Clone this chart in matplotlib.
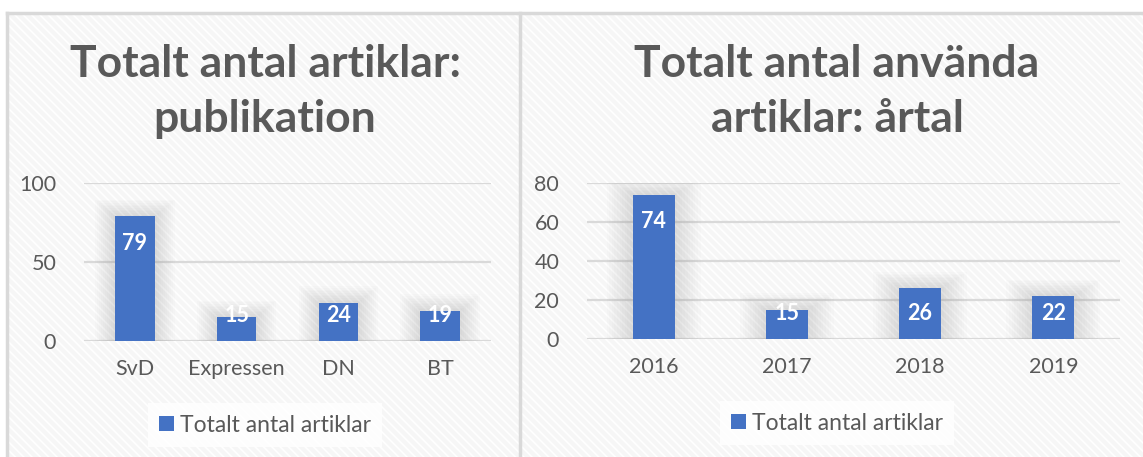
import matplotlib.pyplot as plt
from matplotlib.patches import Rectangle
from matplotlib.lines import Line2D

plt.rcParams['font.family'] = ['Lato', 'DejaVu Sans']
plt.rcParams['hatch.linewidth'] = 1.2

pub_names = ['SvD', 'Expressen', 'DN', 'BT']
pub_counts = [79, 15, 24, 19]
years = ['2016', '2017', '2018', '2019']
year_counts = [74, 15, 26, 22]
legend_label = 'Totalt antal artiklar'
title_left = ['Totalt antal artiklar:', 'publikation']
title_right = ['Totalt antal använda', 'artiklar: årtal']

W, H = 1143, 457
blue = '#4472c4'
grey_txt = '#595959'
grid_c = '#d9d9d9'

fig = plt.figure(figsize=(W / 100, H / 100), dpi=100)
fig.patch.set_facecolor('white')

# hatched chart background and borders
bg = Rectangle((7 / W, 0), 1 - 7 / W, 1 - 13 / H, transform=fig.transFigure,
               facecolor='#f6f6f6', edgecolor='#ffffff', hatch='\\\\\\\\', lw=0, zorder=-5)
fig.patches.append(bg)
for xs, ys in [([7, W], [13, 13]), ([7, 7], [13, H]), ([520, 520], [13, H])]:
    fig.add_artist(Line2D([x / W for x in xs], [1 - y / H for y in ys],
                          transform=fig.transFigure, color=grid_c, lw=2.5, zorder=-4))


def panel(rect, cats, vals, ymax, step, bar_w, title, title_x, legend_xy):
    ax = fig.add_axes(rect)
    ax.set_facecolor('none')
    x = range(len(cats))
    # soft shadow around bars
    for k in range(10):
        grow = (k + 1) * 0.03
        ax.bar(x, [v + ymax * grow * 0.35 for v in vals], width=bar_w + grow * 1.3,
               color='#7f7f7f', alpha=0.022, lw=0, zorder=1)
    ax.bar(x, vals, width=bar_w, color=blue, zorder=3, label=legend_label)
    ax.set_xlim(-0.5, len(cats) - 0.5)
    ax.set_ylim(0, ymax)
    ticks = list(range(0, ymax + 1, step))
    ax.set_yticks(ticks)
    ax.yaxis.grid(True, color=grid_c, lw=1.6, zorder=0)
    ax.set_axisbelow(True)
    for s in ax.spines.values():
        s.set_visible(False)
    ax.tick_params(length=0, labelsize=15.5, labelcolor=grey_txt)
    ax.tick_params(axis='y', pad=20)
    ax.tick_params(axis='x', pad=13)
    ax.set_xticks(list(x))
    ax.set_xticklabels(cats)
    # data labels: inside end, but never lower than a floor above the base
    px_h = rect[3] * H
    u = ymax / px_h
    for i, v in enumerate(vals):
        y = max(v - 27 * u, 25 * u)
        ax.text(i, y, str(v), ha='center', va='center', color='white',
                fontsize=15.5, fontweight='bold', zorder=4)
    for j, line in enumerate(title):
        fig.text(title_x / W, 1 - (77 + 55 * j) / H, line, ha='center', va='baseline',
                 fontsize=32, fontweight='bold', color=grey_txt)
    leg = ax.legend(loc='center', bbox_to_anchor=(legend_xy[0] / W, 1 - legend_xy[1] / H),
                    bbox_transform=fig.transFigure, frameon=True, fontsize=16.5,
                    handlelength=0.65, handleheight=0.65, handletextpad=0.25,
                    borderpad=0.5, borderaxespad=0)
    leg.get_frame().set_facecolor('white')
    leg.get_frame().set_alpha(0.8)
    leg.get_frame().set_edgecolor('none')
    leg.get_frame().set_boxstyle('square', pad=0)
    for t in leg.get_texts():
        t.set_color(grey_txt)
    return ax


panel([84 / W, 1 - 341 / H, (491 - 84) / W, (341 - 183) / H], pub_names, pub_counts,
      100, 50, 0.39, title_left, 265, (265, 425))
panel([587 / W, 1 - 339 / H, (1120 - 587) / W, (339 - 183) / H], years, year_counts,
      80, 20, 0.315, title_right, 837, (837, 423))

fig.savefig('out.png', dpi=100)
